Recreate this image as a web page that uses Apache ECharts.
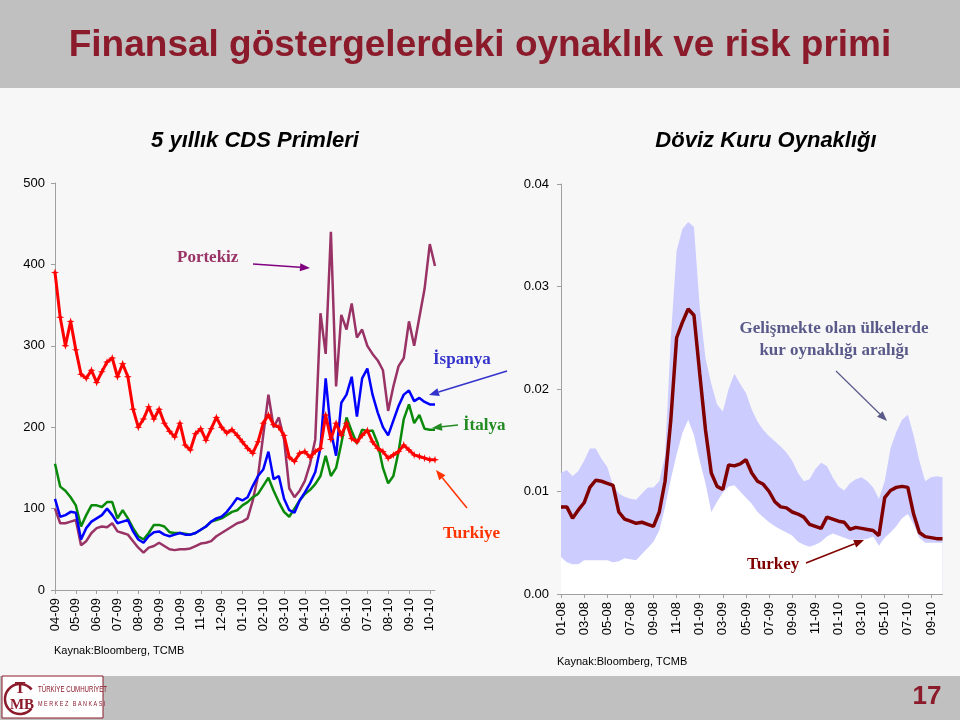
<!DOCTYPE html>
<html>
<head>
<meta charset="utf-8">
<script src="https://cdn.jsdelivr.net/npm/echarts@6/dist/echarts.min.js"></script>
<style>
html,body{margin:0;padding:0;background:#f7f7f7;}
#c{width:960px;height:720px;}
</style>
</head>
<body>
<div id="c"></div>
<script>
// ---------- Left chart: 5 yıllık CDS primleri (weekly samples, months since Apr-09) ----------
const cdsMonths = ['04-09','05-09','06-09','07-09','08-09','09-09','10-09','11-09','12-09','01-10','02-10','03-10','04-10','05-10','06-10','07-10','08-10','09-10','10-10'];
const cdsStep = 0.25;
const turkiye = [390,335,300,330,295,265,260,270,255,268,280,285,262,278,262,222,200,210,225,210,
  222,205,195,188,205,178,172,192,198,184,198,212,200,193,197,190,182,174,168,182,
  205,215,203,200,190,163,158,168,170,163,170,174,215,185,205,190,205,186,182,190,
  196,182,174,170,162,166,170,178,172,166,164,162,160,160];
const ispanya = [112,90,92,96,95,62,76,84,88,92,100,92,82,84,86,72,62,58,66,71,
  72,68,66,68,70,68,68,70,74,78,84,88,90,96,104,113,110,114,128,140,
  148,170,136,140,112,98,95,110,120,131,145,175,260,195,165,230,240,262,213,260,
  272,240,218,200,190,208,226,240,245,232,236,231,228,228];
const italya = [155,127,122,114,104,78,92,104,104,102,108,108,88,98,88,76,66,62,70,80,
  80,78,71,70,70,69,68,70,74,78,84,86,88,92,96,98,104,108,114,118,
  128,138,122,108,96,90,100,110,118,123,130,140,165,140,150,180,212,195,180,197,
  195,196,180,150,131,140,170,210,228,205,215,198,197,197];
const portekiz = [100,82,82,84,86,55,60,70,76,78,77,82,72,70,68,60,52,46,52,54,
  58,54,50,49,50,50,51,54,57,58,60,66,70,74,78,82,84,88,110,140,
  190,240,200,212,185,125,114,122,134,155,185,340,290,440,250,338,320,352,310,320,
  300,290,282,270,220,250,275,285,330,300,335,370,425,398];

// ---------- Right chart: Döviz kuru oynaklığı (half-month samples, months since Jan-08) ----------
const volMonths = ['01-08','03-08','05-08','07-08','09-08','11-08','01-09','03-09','05-09','07-09','09-09','11-09','01-10','03-10','05-10','07-10','09-10'];
const volStep = 0.5;
const volUpper = [0.0118,0.0121,0.0115,0.0120,0.0130,0.0142,0.0142,0.0132,0.0124,0.0106,
  0.0098,0.0095,0.0093,0.0092,0.0098,0.0104,0.0104,0.0110,0.0135,0.0250,
  0.0335,0.0356,0.0363,0.0358,0.0280,0.0230,0.0205,0.0185,0.0178,0.0200,
  0.0215,0.0205,0.0196,0.0180,0.0168,0.0160,0.0154,0.0149,0.0144,0.0138,
  0.0130,0.0118,0.0110,0.0112,0.0122,0.0128,0.0125,0.0114,0.0105,0.0101,
  0.0108,0.0112,0.0114,0.0110,0.0104,0.0093,0.0110,0.0142,0.0158,0.0170,
  0.0175,0.0155,0.0130,0.0110,0.0114,0.0115,0.0114];
const volLower = [0.0036,0.0031,0.0029,0.0029,0.0033,0.0033,0.0033,0.0033,0.0033,0.0031,
  0.0032,0.0035,0.0034,0.0033,0.0039,0.0045,0.0051,0.0062,0.0085,0.0112,
  0.0136,0.0157,0.0170,0.0155,0.0130,0.0108,0.0080,0.0090,0.0099,0.0105,
  0.0106,0.0100,0.0094,0.0088,0.0080,0.0075,0.0070,0.0066,0.0063,0.0060,
  0.0057,0.0051,0.0048,0.0046,0.0048,0.0051,0.0056,0.0059,0.0057,0.0055,
  0.0053,0.0053,0.0053,0.0054,0.0056,0.0047,0.0055,0.0060,0.0066,0.0074,
  0.0078,0.0068,0.0055,0.0050,0.0050,0.0050,0.0050];
const turkey = [0.0085,0.0085,0.0074,0.0082,0.0089,0.0104,0.0111,0.0110,0.0108,0.0106,
  0.0080,0.0073,0.0071,0.0069,0.0070,0.0068,0.0066,0.0080,0.0110,0.0170,
  0.0250,0.0265,0.0278,0.0272,0.0215,0.0160,0.0118,0.0105,0.0102,0.0126,
  0.0125,0.0127,0.0131,0.0118,0.0110,0.0107,0.0100,0.0090,0.0085,0.0084,
  0.0080,0.0078,0.0075,0.0068,0.0066,0.0064,0.0075,0.0073,0.0071,0.0070,
  0.0063,0.0065,0.0064,0.0063,0.0062,0.0057,0.0094,0.0101,0.0104,0.0105,
  0.0104,0.0078,0.0060,0.0056,0.0055,0.0054,0.0054];

const pair = (arr, step) => arr.map((v, i) => [i * step, v]);

const DARKRED = '#8b1a2b';
const FONT = '"Liberation Sans", Arial, sans-serif';
const SERIF = '"Liberation Serif", "Times New Roman", serif';

function arrow(x1, y1, x2, y2, color, w) {
  const dx = x2 - x1, dy = y2 - y1, L = Math.sqrt(dx*dx + dy*dy);
  const ux = dx / L, uy = dy / L, hl = 10, hw = 4;
  const bx = x2 - ux * hl, by = y2 - uy * hl;
  return [
    {type:'line', shape:{x1:x1, y1:y1, x2:bx, y2:by}, style:{stroke:color, lineWidth:w}, z:50},
    {type:'polygon', shape:{points:[[x2,y2],[bx - uy*hw, by + ux*hw],[bx + uy*hw, by - ux*hw]]}, style:{fill:color}, z:50}
  ];
}
function txt(x, y, text, font, fill, align, sx) {
  const o = {type:'text', x:x, y:y, z:50, style:{text:text, font:font, fill:fill, align:align||'left', verticalAlign:'middle', textAlign:align||'left', textVerticalAlign:'middle'}};
  if (sx) o.scaleX = sx;
  return o;
}

const axisCommon = {
  axisLine:{show:true, lineStyle:{color:'#a0a0a0', width:1}},
  axisTick:{show:true, inside:false, length:4, lineStyle:{color:'#a0a0a0'}},
  splitLine:{show:false},
  axisLabel:{color:'#000', fontFamily:FONT, fontSize:13}
};

const graphics = [
  {type:'rect', shape:{x:0, y:0, width:960, height:88}, style:{fill:'#c0c0c0'}, z:1},
  txt(480, 46, 'Finansal göstergelerdeki oynaklık ve risk primi', 'bold 37px ' + FONT, DARKRED, 'center'),
  txt(255, 141, '5 yıllık CDS Primleri', 'italic bold 22px ' + FONT, '#000', 'center'),
  txt(766, 141, 'Döviz Kuru Oynaklığı', 'italic bold 22px ' + FONT, '#000', 'center'),
  txt(54, 651, 'Kaynak:Bloomberg, TCMB', '11px ' + FONT, '#000', 'left'),
  txt(557, 662, 'Kaynak:Bloomberg, TCMB', '11px ' + FONT, '#000', 'left'),
  {type:'rect', shape:{x:0, y:676, width:960, height:44}, style:{fill:'#c0c0c0'}, z:1},
  {type:'rect', shape:{x:2, y:676, width:101, height:42}, style:{fill:'#ffffff', stroke:DARKRED, lineWidth:1}, z:2},
  {type:'arc', shape:{cx:20, cy:699, r:15, startAngle:0.7, endAngle:5.6, clockwise:true}, style:{stroke:DARKRED, lineWidth:2.5, fill:null}, z:51},
  txt(20, 689, 'T', 'bold 16px ' + SERIF, DARKRED, 'center'),
  txt(22, 705, 'MB', 'bold 15px ' + SERIF, DARKRED, 'center'),
  txt(38, 690, 'TÜRKİYE CUMHURİYET', '9px ' + FONT, DARKRED, 'left', 0.68),
  txt(38, 704, 'M E R K E Z   B A N K A S I', '8px ' + FONT, DARKRED, 'left', 0.68),
  txt(927, 697, '17', 'bold 26px ' + FONT, DARKRED, 'center'),
  // annotations
  txt(177, 258, 'Portekiz', 'bold 17px ' + SERIF, '#993366', 'left'),
  txt(433, 360, 'İspanya', 'bold 17px ' + SERIF, '#3333cc', 'left'),
  txt(463, 426, 'İtalya', 'bold 17px ' + SERIF, '#228b22', 'left'),
  txt(443, 534, 'Turkiye', 'bold 17px ' + SERIF, '#ff3300', 'left'),
  txt(834, 329, 'Gelişmekte olan ülkelerde', 'bold 17px ' + SERIF, '#5a5a8a', 'center'),
  txt(834, 351, 'kur oynaklığı aralığı', 'bold 17px ' + SERIF, '#5a5a8a', 'center'),
  txt(747, 565, 'Turkey', 'bold 17px ' + SERIF, '#800000', 'left')
].concat(
  arrow(253, 264, 310, 268, '#800080', 1.5),
  arrow(507, 371, 429, 395, '#3333cc', 1.5),
  arrow(458, 425, 432, 428, '#228b22', 1.5),
  arrow(467, 508, 436, 470, '#ff3300', 1.5),
  arrow(836, 371, 887, 421, '#5a5a8a', 1.2),
  arrow(806, 563, 864, 540, '#800000', 1.5)
);

const chart = echarts.init(document.getElementById('c'), null, {renderer:'canvas'});
chart.setOption({
  backgroundColor:'#f7f7f7',
  animation:false,
  graphic:graphics,
  grid:[
    {left:55, top:183, width:380, height:407},
    {left:561, top:184, width:381.5, height:410}
  ],
  xAxis:[
    Object.assign({}, axisCommon, {gridIndex:0, type:'value', min:0, max:18.25, interval:1, z:5,
      axisLabel:Object.assign({}, axisCommon.axisLabel, {rotate:90, margin:8, showMaxLabel:false,
        formatter:v => Number.isInteger(v) ? (cdsMonths[v] || '') : ''})}),
    Object.assign({}, axisCommon, {gridIndex:1, type:'value', min:0, max:33, interval:2, z:5,
      axisLabel:Object.assign({}, axisCommon.axisLabel, {rotate:90, margin:8, showMaxLabel:false,
        formatter:v => (Number.isInteger(v) && v % 2 === 0) ? (volMonths[v/2] || '') : ''})})
  ],
  yAxis:[
    Object.assign({}, axisCommon, {gridIndex:0, type:'value', min:0, max:500, interval:100,
      axisLabel:Object.assign({}, axisCommon.axisLabel, {margin:10})}),
    Object.assign({}, axisCommon, {gridIndex:1, type:'value', min:0, max:0.04, interval:0.01,
      axisLabel:Object.assign({}, axisCommon.axisLabel, {margin:12, formatter:v => v.toFixed(2)})})
  ],
  series:[
    {name:'Portekiz', type:'line', xAxisIndex:0, yAxisIndex:0, data:pair(portekiz, cdsStep), showSymbol:false,
      lineStyle:{color:'#993366', width:2.5}, itemStyle:{color:'#993366'}, z:2},
    {name:'İtalya', type:'line', xAxisIndex:0, yAxisIndex:0, data:pair(italya, cdsStep), showSymbol:false,
      lineStyle:{color:'#0a8a0a', width:2.5}, itemStyle:{color:'#0a8a0a'}, z:3},
    {name:'İspanya', type:'line', xAxisIndex:0, yAxisIndex:0, data:pair(ispanya, cdsStep), showSymbol:false,
      lineStyle:{color:'#0000ff', width:2.5}, itemStyle:{color:'#0000ff'}, z:4},
    {name:'Turkiye', type:'line', xAxisIndex:0, yAxisIndex:0, data:pair(turkiye, cdsStep),
      symbol:'path://M5 0 L6.2 3.8 L10 5 L6.2 6.2 L5 10 L3.8 6.2 L0 5 L3.8 3.8 Z', symbolSize:8, showSymbol:true,
      lineStyle:{color:'#ff0000', width:3}, itemStyle:{color:'#ff0000'}, z:5},
    {name:'upper', type:'line', xAxisIndex:1, yAxisIndex:1, data:pair(volUpper, volStep), showSymbol:false,
      lineStyle:{width:0}, areaStyle:{color:'#ccccff', opacity:1}, z:2},
    {name:'lower', type:'line', xAxisIndex:1, yAxisIndex:1, data:pair(volLower, volStep), showSymbol:false,
      lineStyle:{width:0}, areaStyle:{color:'#ffffff', opacity:1}, z:3},
    {name:'Turkey', type:'line', xAxisIndex:1, yAxisIndex:1, data:pair(turkey, volStep), showSymbol:false,
      lineStyle:{color:'#800000', width:3.5}, itemStyle:{color:'#800000'}, z:4}
  ]
});
</script>
</body>
</html>
